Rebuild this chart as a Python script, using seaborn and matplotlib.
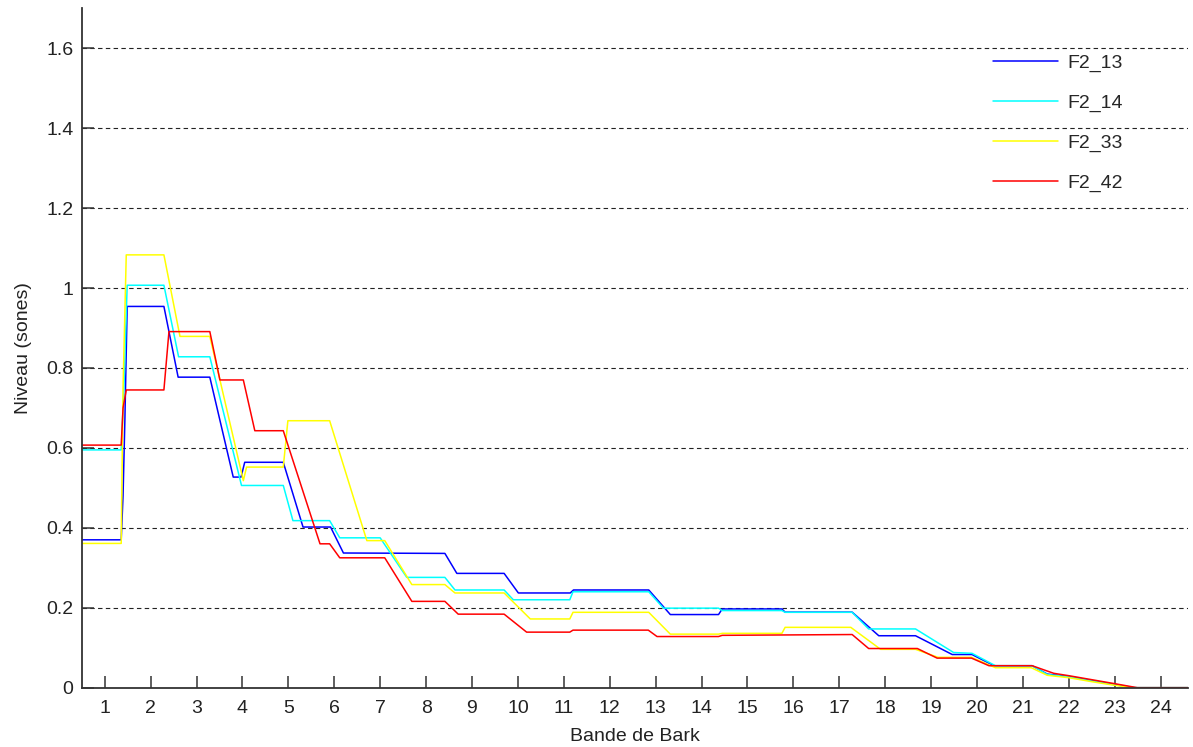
import pandas as pd
import numpy as np
import matplotlib
matplotlib.use('Agg')
import matplotlib.pyplot as plt
import seaborn as sns

# loudness per Bark band (vertices of each curve)
series_names = ['F2_13', 'F2_14', 'F2_33', 'F2_42']

f2_13_x = [0.5, 1.36, 1.40, 1.44, 1.49, 2.29, 2.60, 3.29, 3.80, 3.97, 4.05, 4.89, 5.32, 5.92, 6.20,
           8.41, 8.67, 9.70, 10.01, 11.14, 11.21, 12.85, 13.32, 14.37, 14.45, 15.75, 15.82, 17.28,
           17.86, 18.66, 19.46, 19.89, 20.37, 21.20, 21.53, 22.0, 22.5, 23.0, 23.42, 24.6]
f2_13_y = [0.370, 0.370, 0.48, 0.67, 0.954, 0.954, 0.777, 0.777, 0.527, 0.527, 0.564, 0.564, 0.402,
           0.402, 0.337, 0.336, 0.286, 0.286, 0.237, 0.237, 0.2445, 0.2445, 0.183, 0.183, 0.197,
           0.197, 0.189, 0.189, 0.130, 0.130, 0.083, 0.083, 0.055, 0.055, 0.034, 0.028, 0.018,
           0.008, 0.0, 0.0]

f2_14_x = [0.5, 1.36, 1.42, 1.49, 2.29, 2.61, 3.29, 3.98, 4.89, 5.10, 5.90, 6.12, 7.00, 7.58, 8.41,
           8.63, 9.70, 9.90, 11.13, 11.20, 12.85, 13.17, 14.37, 14.45, 15.75, 15.82, 17.28, 17.64,
           18.66, 19.49, 19.89, 20.40, 21.20, 21.53, 22.0, 22.5, 23.0, 23.42, 24.6]
f2_14_y = [0.595, 0.595, 0.75, 1.007, 1.007, 0.828, 0.828, 0.506, 0.506, 0.418, 0.418, 0.375, 0.375,
           0.276, 0.276, 0.2445, 0.2445, 0.220, 0.220, 0.240, 0.240, 0.199, 0.199, 0.193, 0.193,
           0.1886, 0.1886, 0.147, 0.147, 0.088, 0.086, 0.055, 0.055, 0.033, 0.027, 0.017, 0.007,
           0.0, 0.0]

f2_33_x = [0.5, 1.36, 1.40, 1.47, 2.29, 2.64, 3.29, 4.02, 4.09, 4.89, 4.99, 5.90, 6.71, 7.10, 7.69,
           8.41, 8.63, 9.70, 10.27, 11.13, 11.20, 12.85, 13.32, 14.37, 14.45, 15.75, 15.82, 17.25,
           17.90, 18.66, 19.15, 19.88, 20.40, 21.18, 21.53, 22.0, 22.5, 23.0, 23.40, 24.6]
f2_33_y = [0.361, 0.361, 0.75, 1.083, 1.083, 0.879, 0.879, 0.518, 0.552, 0.552, 0.668, 0.668, 0.368,
           0.368, 0.258, 0.258, 0.237, 0.237, 0.172, 0.172, 0.1886, 0.1886, 0.134, 0.134, 0.136,
           0.136, 0.151, 0.151, 0.096, 0.096, 0.076, 0.076, 0.050, 0.050, 0.031, 0.025, 0.015,
           0.006, 0.0, 0.0]

f2_42_x = [0.5, 1.36, 1.40, 1.47, 2.29, 2.40, 3.29, 3.51, 4.02, 4.27, 4.89, 5.69, 5.90, 6.12, 7.10,
           7.69, 8.41, 8.70, 9.70, 10.19, 11.13, 11.20, 12.84, 13.03, 14.37, 14.45, 17.28, 17.64,
           18.70, 19.13, 19.88, 20.26, 21.20, 21.67, 22.0, 22.5, 23.0, 23.49, 24.6]
f2_42_y = [0.607, 0.607, 0.70, 0.745, 0.745, 0.891, 0.891, 0.770, 0.770, 0.643, 0.643, 0.360, 0.360,
           0.325, 0.325, 0.216, 0.216, 0.184, 0.184, 0.139, 0.139, 0.144, 0.144, 0.128, 0.128,
           0.131, 0.133, 0.098, 0.098, 0.074, 0.074, 0.055, 0.055, 0.036, 0.030, 0.020, 0.010,
           0.0, 0.0]

colors = ['#0000ff', '#00ffff', '#ffff00', '#ff0000']

xs = [f2_13_x, f2_14_x, f2_33_x, f2_42_x]
ys = [f2_13_y, f2_14_y, f2_33_y, f2_42_y]
frames = []
for name, x, y in zip(series_names, xs, ys):
    frames.append(pd.DataFrame({'bark': x, 'level': y, 'serie': name}))
df = pd.concat(frames, ignore_index=True)

sns.set_style('white')
plt.rcParams['font.family'] = ['Liberation Sans', 'DejaVu Sans']
plt.rcParams['font.size'] = 14

fig = plt.figure(figsize=(11.93, 7.47), dpi=100)
ax = fig.add_axes([0.0685, 0.0794, 0.9275, 0.9095])

sns.lineplot(data=df, x='bark', y='level', hue='serie', palette=colors,
             sort=False, estimator=None, linewidth=1.1, ax=ax)

ax.set_xlim(0.5, 24.6)
ax.set_ylim(0, 1.7)
ax.set_xticks(range(1, 25))
ax.set_yticks([0, 0.2, 0.4, 0.6, 0.8, 1.0, 1.2, 1.4, 1.6])
ax.set_yticklabels(['0', '0.2', '0.4', '0.6', '0.8', '1', '1.2', '1.4', '1.6'])

for yv in [0.2, 0.4, 0.6, 0.8, 1.0, 1.2, 1.4, 1.6]:
    ax.axhline(yv, color='#222222', linestyle=(0, (4, 3)), linewidth=0.8, zorder=0)

sns.despine(ax=ax)
for s in ['left', 'bottom']:
    ax.spines[s].set_color('#333333')
    ax.spines[s].set_linewidth(1.3)

ax.tick_params(bottom=True, left=True, top=False, right=False,
               direction='in', length=8.5, width=1.1, color='#333333',
               labelcolor='#222222', labelsize=14)
ax.tick_params(axis='x', pad=9)
ax.tick_params(axis='y', pad=6)

ax.set_xlabel('Bande de Bark', fontsize=14, color='#222222', labelpad=8)
ax.set_ylabel('Niveau (sones)', fontsize=14, color='#222222', labelpad=10)

handles, labels = ax.get_legend_handles_labels()
ax.legend(handles, labels, loc='upper left', frameon=False,
          bbox_to_anchor=(993 / 1193, 1 - 54 / 747), bbox_transform=fig.transFigure,
          borderpad=0, borderaxespad=0, handlelength=3.35, handletextpad=0.45,
          labelspacing=1.15, fontsize=14)

fig.savefig('out.png', dpi=100)
